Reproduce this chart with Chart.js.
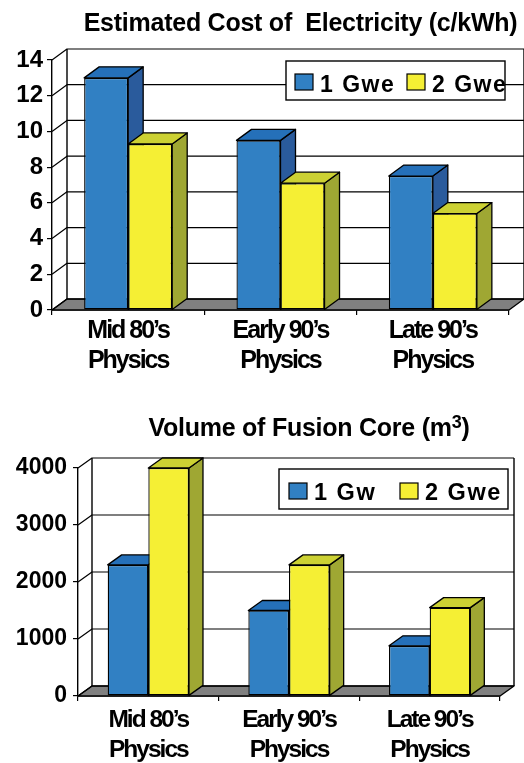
<!DOCTYPE html>
<html>
<head>
<meta charset="utf-8">
<script src="https://cdn.jsdelivr.net/npm/chart.js@4.4.1/dist/chart.umd.min.js"></script>
<style>
  html, body { margin: 0; padding: 0; background: #fff; }
  #wrap { position: relative; width: 524px; height: 763px; overflow: hidden; }
  .pane { position: absolute; left: 0; width: 524px; }
  #costPane { top: 0; height: 380px; }
  #volPane { top: 380px; height: 383px; }
</style>
</head>
<body>
<div id="wrap">
  <div class="pane" id="costPane"><canvas id="costChart"></canvas></div>
  <div class="pane" id="volPane"><canvas id="volChart"></canvas></div>
</div>
<script>
// ---- data ----
const categories = [['Mid 80’s', 'Physics'], ['Early 90’s', 'Physics'], ['Late 90’s', 'Physics']];

const costTitle = 'Estimated Cost of  Electricity (c/kWh)';
const costSeries = ['1 Gwe', '2 Gwe'];
const cost1Gwe = [13, 9.5, 7.5];
const cost2Gwe = [9.3, 7.1, 5.4];
const costTicks = [0, 2, 4, 6, 8, 10, 12, 14];

const volTitle = ['Volume of Fusion Core (m', '3', ')'];
const volSeries = ['1 Gw', '2 Gwe'];
const vol1Gw = [2300, 1500, 880];
const vol2Gwe = [4000, 2300, 1550];
const volTicks = [0, 1000, 2000, 3000, 4000];

// ---- styling ----
const FONT = "'Liberation Sans', Arial, Helvetica, sans-serif";
const BLUE = { front: '#3180c3', top: '#2570b9', side: '#2a5b9c' };
const YELLOW = { front: '#f5ef34', top: '#ccd133', side: '#9fa733' };

// Floor, walls, grid and the top/side faces of each bar (fronts are drawn by Chart.js)
const box3d = {
  id: 'box3d',
  beforeDatasetsDraw(chart, args, o) {
    const { ctx, chartArea: a, scales: { x, y } } = chart;
    const dx = o.dx, dy = o.dy;
    const poly = (pts, fill) => {
      ctx.beginPath();
      pts.forEach((p, i) => i ? ctx.lineTo(p[0], p[1]) : ctx.moveTo(p[0], p[1]));
      ctx.closePath();
      if (fill) { ctx.fillStyle = fill; ctx.fill(); }
      ctx.stroke();
    };
    ctx.save();
    ctx.strokeStyle = '#000';
    ctx.lineJoin = 'round';
    // floor
    ctx.lineWidth = 1.4;
    poly([[a.left, a.bottom], [a.right, a.bottom], [a.right + dx, a.bottom + dy], [a.left + dx, a.bottom + dy]], o.floor);
    // back wall gridlines with the matching diagonals on the side wall
    ctx.lineWidth = 1.2;
    y.ticks.forEach(t => {
      const py = y.getPixelForValue(t.value);
      ctx.beginPath();
      ctx.moveTo(a.left, py);
      ctx.lineTo(a.left + dx, py + dy);
      ctx.lineTo(a.right + dx, py + dy);
      ctx.stroke();
    });
    // back wall edges
    ctx.lineWidth = 1.4;
    ctx.beginPath();
    ctx.moveTo(a.left + dx, a.bottom + dy); ctx.lineTo(a.left + dx, a.top + dy);
    ctx.moveTo(a.right + dx, a.top + dy); ctx.lineTo(a.right + dx, a.bottom + dy);
    ctx.stroke();
    // bar side and top faces, category by category
    const metas = chart.getSortedVisibleDatasetMetas();
    const n = metas[0].data.length;
    ctx.lineWidth = 1.3;
    for (let i = 0; i < n; i++) {
      metas.forEach(m => {
        const ds = chart.data.datasets[m.index];
        const bar = m.data[i].getProps(['x', 'y', 'base', 'width'], true);
        const l = bar.x - bar.width / 2, r = bar.x + bar.width / 2, t = bar.y, b = bar.base;
        poly([[r, b], [r, t], [r + dx, t + dy], [r + dx, b + dy]], ds.sideColor);
        poly([[l, t], [r, t], [r + dx, t + dy], [l + dx, t + dy]], ds.topColor);
      });
    }
    ctx.restore();
  },
  afterDatasetsDraw(chart, args, o) {
    const { ctx } = chart;
    // boxed legend inside the plot
    const L = o.legend;
    ctx.save();
    ctx.fillStyle = '#fff';
    ctx.fillRect(L.x, L.y, L.w, L.h);
    ctx.strokeStyle = '#000';
    ctx.lineWidth = 1.4;
    ctx.strokeRect(L.x, L.y, L.w, L.h);
    chart.data.datasets.forEach((ds, i) => {
      const sx = L.x + L.pad + i * L.step;
      const sy = L.y + L.sqTop;
      ctx.fillStyle = ds.backgroundColor;
      ctx.fillRect(sx, sy, 18, 16);
      ctx.lineWidth = 1.2;
      ctx.strokeRect(sx, sy, 18, 16);
      ctx.fillStyle = '#000';
      ctx.font = `bold ${L.size}px ${FONT}`;
      ctx.letterSpacing = L.spacing;
      ctx.textAlign = 'left';
      ctx.textBaseline = 'alphabetic';
      ctx.fillText(ds.label, sx + 25, L.y + L.base);
    });
    ctx.restore();

    // chart title
    const T = o.title;
    ctx.save();
    ctx.fillStyle = '#000';
    ctx.textBaseline = 'alphabetic';
    ctx.textAlign = 'left';
    ctx.letterSpacing = '-0.25px';
    const big = `bold 25px ${FONT}`, small = `bold 18px ${FONT}`;
    const parts = T.parts.map((s, i) => ({ s, f: (T.sup === i) ? small : big, up: (T.sup === i) ? 8 : 0 }));
    let total = 0;
    parts.forEach(p => { ctx.font = p.f; p.w = ctx.measureText(p.s).width; total += p.w; });
    let cx = T.cx - total / 2;
    parts.forEach(p => { ctx.font = p.f; ctx.fillText(p.s, cx, T.base - p.up); cx += p.w; });
    ctx.restore();

    // category labels (drawn in the next layer) are set a little tighter
    ctx.letterSpacing = '-2px';
  },
  afterDraw(chart) {
    chart.ctx.letterSpacing = '0px';
  }
};

function makeChart(id, cfg) {
  return new Chart(document.getElementById(id), {
    type: 'bar',
    data: {
      labels: categories,
      datasets: cfg.series.map((name, i) => ({
        label: name,
        data: cfg.values[i],
        backgroundColor: cfg.colors[i].front,
        topColor: cfg.colors[i].top,
        sideColor: cfg.colors[i].side,
        borderColor: '#000',
        borderWidth: 1.3,
        borderSkipped: false,
        categoryPercentage: 0.578,
        barPercentage: 1.0
      }))
    },
    options: {
      responsive: true,
      maintainAspectRatio: false,
      animation: false,
      layout: { padding: { left: 0, right: cfg.padRight, top: cfg.padTop, bottom: 0 } },
      plugins: {
        legend: { display: false },
        title: { display: false },
        tooltip: { enabled: false },
        box3d: { dx: cfg.dx, dy: cfg.dy, floor: '#808080', legend: cfg.legend, title: cfg.title }
      },
      scales: {
        x: {
          afterFit: s => { s.height = cfg.xHeight; },
          grid: { offset: true, drawOnChartArea: false, drawTicks: true, tickLength: 5, color: '#000', lineWidth: 1.2 },
          border: { display: true, color: '#000', width: 1.4 },
          ticks: {
            z: 1,
            color: '#000',
            padding: cfg.xPad,
            maxRotation: 0,
            autoSkip: false,
            font: { family: FONT, size: cfg.xFont, weight: 'bold', lineHeight: cfg.xLine }
          }
        },
        y: {
          min: cfg.ticks[0],
          max: cfg.ticks[cfg.ticks.length - 1],
          afterFit: s => { s.width = cfg.yWidth; },
          afterBuildTicks: s => { s.ticks = cfg.ticks.map(v => ({ value: v })); },
          grid: { drawOnChartArea: false, drawTicks: true, tickLength: 5, color: '#000', lineWidth: 1.2 },
          border: { display: true, color: '#000', width: 1.4 },
          ticks: {
            color: '#000',
            padding: cfg.yPad,
            callback: v => String(v),
            font: { family: FONT, size: cfg.yFont, weight: 'bold' }
          }
        }
      }
    },
    plugins: [box3d]
  });
}

makeChart('costChart', {
  series: costSeries,
  values: [cost1Gwe, cost2Gwe],
  colors: [BLUE, YELLOW],
  ticks: costTicks,
  padTop: 60, padRight: 15,
  yWidth: 52, xHeight: 70,
  xPad: 1, xFont: 25, xLine: 1.2,
  yPad: 4, yFont: 24,
  dx: 15, dy: -11,
  legend: { x: 286, y: 61, w: 219, h: 39, pad: 9, step: 112, sqTop: 13, base: 30.7, size: 23, spacing: '1.5px' },
  title: { parts: [costTitle], cx: 300.5, base: 31 }
});

makeChart('volChart', {
  series: volSeries,
  values: [vol1Gw, vol2Gwe],
  colors: [BLUE, YELLOW],
  ticks: volTicks,
  padTop: 88, padRight: 24,
  yWidth: 78, xHeight: 67,
  xPad: 3.5, xFont: 24.5, xLine: 1.25,
  yPad: 6, yFont: 23,
  dx: 14, dy: -10,
  legend: { x: 279, y: 89, w: 229, h: 40, pad: 10, step: 111, sqTop: 14, base: 30.5, size: 23.5, spacing: '1.5px' },
  title: { parts: volTitle, sup: 1, cx: 309, base: 56 }
});
</script>
</body>
</html>
